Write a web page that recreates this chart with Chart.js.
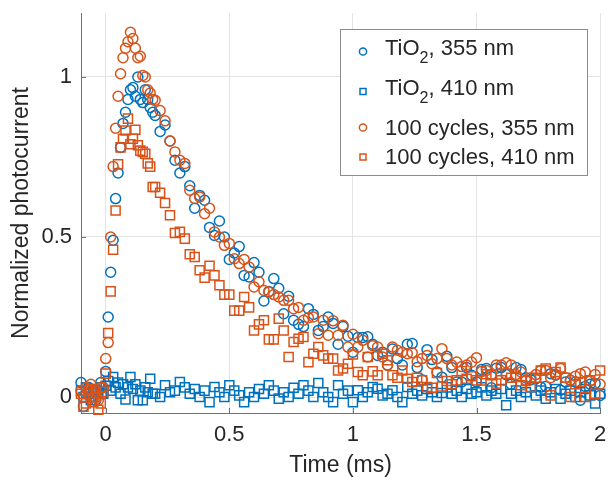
<!DOCTYPE html>
<html>
<head>
<meta charset="utf-8">
<script src="https://cdn.jsdelivr.net/npm/chart.js@4.4.0/dist/chart.umd.min.js"></script>
<style>
  html, body { margin: 0; padding: 0; background: #fff; }
</style>
</head>
<body>
<canvas id="photoChart" width="608" height="481"></canvas>
<script>
// time axis (ms) - denser sampling around the pulse, 0.02 ms afterwards
const time = [
  -0.10, -0.09, -0.08, -0.07, -0.06, -0.05, -0.04, -0.03, -0.02, -0.01,
  0.00, 0.01, 0.02, 0.03, 0.04, 0.05, 0.06, 0.07, 0.08, 0.09,
  0.10, 0.11, 0.12, 0.13, 0.14, 0.15, 0.16, 0.17, 0.18, 0.19,
  0.20, 0.22, 0.24, 0.26, 0.28, 0.30, 0.32, 0.34, 0.36, 0.38,
  0.40, 0.42, 0.44, 0.46, 0.48, 0.50, 0.52, 0.54, 0.56, 0.58,
  0.60, 0.62, 0.64, 0.66, 0.68, 0.70, 0.72, 0.74, 0.76, 0.78,
  0.80, 0.82, 0.84, 0.86, 0.88, 0.90, 0.92, 0.94, 0.96, 0.98,
  1.00, 1.02, 1.04, 1.06, 1.08, 1.10, 1.12, 1.14, 1.16, 1.18,
  1.20, 1.22, 1.24, 1.26, 1.28, 1.30, 1.32, 1.34, 1.36, 1.38,
  1.40, 1.42, 1.44, 1.46, 1.48, 1.50, 1.52, 1.54, 1.56, 1.58,
  1.60, 1.62, 1.64, 1.66, 1.68, 1.70, 1.72, 1.74, 1.76, 1.78,
  1.80, 1.82, 1.84, 1.86, 1.88, 1.90, 1.92, 1.94, 1.96, 1.98,
  2.00
];

// TiO2, 355 nm
const tio2_355 = [
  0.045, -0.03, 0.01, 0.03, 0.0, 0.02, -0.01, 0.02, 0.045, 0.01,
  0.08, 0.25, 0.39, 0.49, 0.62, 0.70, 0.78, 0.855, 0.89, 0.93,
  0.96, 0.967, 0.94, 1.00, 0.93, 0.92, 0.96, 0.93, 0.905, 0.89,
  0.88, 0.83, 0.85, 0.80, 0.74, 0.70, 0.72, 0.66, 0.59, 0.63,
  0.615, 0.53, 0.505, 0.55, 0.50, 0.43, 0.45, 0.47, 0.38, 0.375,
  0.42, 0.39, 0.30, 0.33, 0.37, 0.34, 0.26, 0.315, 0.24, 0.227,
  0.22, 0.276, 0.258, 0.208, 0.22, 0.25, 0.23, 0.165, 0.22, 0.19,
  0.14, 0.186, 0.186, 0.188, 0.165, 0.13, 0.14, 0.10, 0.15, 0.12,
  0.10, 0.165, 0.167, 0.092, 0.054, 0.148, 0.117, 0.078, 0.062, 0.127,
  0.092, 0.047, 0.047, 0.092, 0.068, 0.047, 0.086, 0.089, 0.029, 0.09,
  0.092, 0.07, 0.04, 0.092, 0.086, 0.06, 0.054, 0.057, 0.031, 0.033,
  0.073, 0.068, 0.021, 0.047, 0.052, 0.047, -0.01, 0.033, 0.04, 0.042,
  0.005
];

// TiO2, 410 nm
const tio2_410 = [
  0.02, 0.0, 0.03, 0.01, -0.01, 0.025, 0.0, 0.015, 0.03, 0.01,
  0.035, 0.05, 0.02, 0.0625, 0.03, 0.045, 0.01, 0.04, -0.008, 0.03,
  0.0625, 0.025, 0.04, -0.01, 0.02, -0.01, 0.03, 0.015, 0.057, 0.01,
  0.01, 0.0, 0.037, 0.015, 0.02, 0.047, 0.03, 0.01, 0.025, 0.0,
  0.02, -0.016, 0.031, 0.015, 0.0, 0.037, 0.02, 0.005, -0.016, 0.015,
  0.0, 0.025, 0.01, 0.037, 0.02, -0.005, 0.015, 0.0, 0.029, 0.01,
  0.037, 0.02, 0.0, 0.044, 0.015, 0.0, -0.016, 0.037, 0.01, 0.02,
  -0.016, 0.021, 0.0, 0.015, 0.031, 0.026, 0.005, 0.01, 0.021, 0.0,
  -0.016, 0.031, 0.01, 0.02, 0.005, 0.025, 0.015, 0.0, 0.0125, 0.03,
  0.01, 0.02, 0.0, 0.025, 0.01, 0.015, 0.03, 0.005, 0.02, 0.01,
  0.025, -0.026, 0.01, 0.02, 0.0, 0.015, 0.03, 0.005, 0.02, -0.005,
  0.015, 0.025, -0.005, 0.01, 0.02, 0.0, 0.015, 0.025, 0.005, -0.02,
  0.01
];

// 100 cycles, 355 nm
const cyc100_355 = [
  0.02, 0.0, 0.03, 0.01, 0.04, 0.0, 0.02, -0.01, 0.03, 0.03,
  0.12, 0.17, 0.50, 0.72, 0.84, 0.94, 1.01, 1.06, 1.09, 1.11,
  1.14, 1.12, 1.09, 1.06, 1.065, 1.005, 1.00, 0.96, 0.95, 0.93,
  0.927, 0.895, 0.863, 0.80, 0.766, 0.74, 0.73, 0.646, 0.62, 0.625,
  0.573, 0.59, 0.516, 0.50, 0.474, 0.48, 0.432, 0.417, 0.43, 0.406,
  0.344, 0.36, 0.333, 0.328, 0.32, 0.3125, 0.302, 0.302, 0.276, 0.28,
  0.24, 0.248, 0.25, 0.198, 0.24, 0.193, 0.238, 0.193, 0.224, 0.156,
  0.196, 0.156, 0.177, 0.125, 0.16, 0.156, 0.125, 0.099, 0.156, 0.146,
  0.14, 0.135, 0.138, 0.11, 0.12, 0.13, 0.104, 0.12, 0.151, 0.12,
  0.10, 0.109, 0.095, 0.10, 0.109, 0.123, 0.08, 0.083, 0.07, 0.10,
  0.10, 0.107, 0.10, 0.07, 0.078, 0.052, 0.06, 0.07, 0.083, 0.083,
  0.06, 0.07, 0.089, 0.06, 0.052, 0.065, 0.073, 0.078, 0.05, 0.07,
  0.04
];

// 100 cycles, 410 nm
const cyc100_410 = [
  0.01, -0.03, -0.02, 0.02, 0.025, -0.016, 0.0, -0.04, -0.02, 0.016,
  0.073, 0.20, 0.33, 0.46, 0.583, 0.727, 0.78, 0.807, 0.833, 0.87,
  0.79, 0.807, 0.835, 0.787, 0.77, 0.766, 0.76, 0.73, 0.72, 0.656,
  0.656, 0.638, 0.606, 0.568, 0.5125, 0.516, 0.495, 0.446, 0.4375, 0.396,
  0.373, 0.41, 0.38, 0.349, 0.32, 0.32, 0.27, 0.27, 0.3125, 0.28,
  0.208, 0.227, 0.24, 0.18, 0.18, 0.245, 0.208, 0.125, 0.172, 0.182,
  0.1875, 0.109, 0.135, 0.156, 0.13, 0.12, 0.12, 0.083, 0.089, 0.104,
  0.133, 0.078, 0.068, 0.125, 0.08, 0.068, 0.135, 0.115, 0.068, 0.06,
  0.083, 0.057, 0.047, 0.06, 0.052, 0.031, 0.029, 0.075, 0.033, 0.05,
  0.04, 0.052, 0.081, 0.057, 0.065, 0.052, 0.052, 0.071, 0.068, 0.042,
  0.052, 0.073, 0.06, 0.0625, 0.037, 0.05, 0.031, 0.06, 0.083, 0.089,
  0.005, 0.078, 0.092, 0.06, 0.0, 0.04, 0.047, 0.0, 0.052, 0.01,
  0.083
];

const xTicks = [0, 0.5, 1, 1.5, 2];
const yTicks = [0, 0.5, 1];

const BLUE = '#0072BD';
const ORANGE = '#D95319';
const TEXT = '#262626';
const AXIS = '#707070';
const FONT = "'Liberation Sans', Arial, Helvetica, sans-serif";

function pts(ys) {
  return time.map((t, i) => ({ x: t, y: ys[i] }));
}

// legend rows: main text, subscript, rest
const legendRows = [
  { pre: 'TiO', sub: '2', post: ', 355 nm', color: BLUE, style: 'circle' },
  { pre: 'TiO', sub: '2', post: ', 410 nm', color: BLUE, style: 'rect' },
  { pre: '100 cycles, 355 nm', sub: '', post: '', color: ORANGE, style: 'circle' },
  { pre: '100 cycles, 410 nm', sub: '', post: '', color: ORANGE, style: 'rect' }
];

const boxLegend = {
  id: 'boxLegend',
  afterDraw(chart) {
    const ctx = chart.ctx;
    const bx = 340, by = 29, bw = 247, bh = 146;
    ctx.save();
    ctx.fillStyle = '#fff';
    ctx.fillRect(bx, by, bw, bh);
    ctx.strokeStyle = '#8c8c8c';
    ctx.lineWidth = 1;
    ctx.strokeRect(bx + 0.5, by + 0.5, bw, bh);

    const markY = [51.5, 91.5, 127.5, 157];
    const textY = [49, 89, 128.5, 157.5];
    legendRows.forEach((r, i) => {
      ctx.strokeStyle = r.color;
      ctx.lineWidth = 1.5;
      ctx.beginPath();
      if (r.style === 'circle') {
        ctx.arc(363, markY[i], 3.6, 0, Math.PI * 2);
      } else {
        ctx.rect(360, markY[i] - 3, 6, 6);
      }
      ctx.stroke();

      ctx.fillStyle = TEXT;
      ctx.textBaseline = 'middle';
      ctx.textAlign = 'left';
      ctx.font = '22px ' + FONT;
      let x = 385;
      ctx.fillText(r.pre, x, textY[i]);
      x += ctx.measureText(r.pre).width;
      if (r.sub) {
        ctx.font = '16px ' + FONT;
        ctx.fillText(r.sub, x, textY[i] + 10);
        x += ctx.measureText(r.sub).width;
        ctx.font = '22px ' + FONT;
        ctx.fillText(r.post, x, textY[i]);
      }
    });
    ctx.restore();
  }
};

// small inward tick marks on the left and bottom axes
const inwardTicks = {
  id: 'inwardTicks',
  beforeDatasetsDraw(chart) {
    const { ctx, chartArea: a, scales: { x, y } } = chart;
    ctx.save();
    ctx.strokeStyle = AXIS;
    ctx.lineWidth = 1;
    ctx.beginPath();
    xTicks.forEach(v => {
      const px = Math.round(x.getPixelForValue(v)) + 0.5;
      ctx.moveTo(px, a.bottom);
      ctx.lineTo(px, a.bottom - 5);
    });
    yTicks.forEach(v => {
      const py = Math.round(y.getPixelForValue(v)) + 0.5;
      ctx.moveTo(a.left, py);
      ctx.lineTo(a.left + 5, py);
    });
    ctx.stroke();
    ctx.restore();
  }
};

function markerSet(label, ys, color, style, order) {
  return {
    label: label,
    data: pts(ys),
    pointStyle: style,
    pointRadius: style === 'rect' ? 6.4 : 5,
    borderColor: color,
    backgroundColor: 'rgba(0,0,0,0)',
    pointBorderWidth: 1.5,
    clip: false,
    order: order
  };
}

// the plot box edges come from layout padding, not from label overhang
function noOverhang(scale) {
  scale.paddingTop = 0;
  scale.paddingBottom = 0;
  scale.paddingLeft = 0;
  scale.paddingRight = 0;
}

const ctx = document.getElementById('photoChart').getContext('2d');

const photoChart = new Chart(ctx, {
  type: 'scatter',
  data: {
    datasets: [
      markerSet('TiO2, 355 nm', tio2_355, BLUE, 'circle', 4),
      markerSet('TiO2, 410 nm', tio2_410, BLUE, 'rect', 3),
      markerSet('100 cycles, 355 nm', cyc100_355, ORANGE, 'circle', 2),
      markerSet('100 cycles, 410 nm', cyc100_410, ORANGE, 'rect', 1)
    ]
  },
  options: {
    responsive: false,
    animation: false,
    devicePixelRatio: 1,
    layout: { padding: { left: 0, right: 5, top: 13, bottom: 0 } },
    plugins: {
      legend: { display: false },
      tooltip: { enabled: false }
    },
    scales: {
      x: {
        type: 'linear',
        min: -0.1,
        max: 2,
        afterBuildTicks: (scale) => { scale.ticks = xTicks.map(v => ({ value: v })); },
        afterFit: (scale) => { scale.height = 68; noOverhang(scale); },
        grid: { color: '#e3e3e3', drawTicks: false },
        border: { color: AXIS, width: 1 },
        ticks: {
          padding: 9,
          color: TEXT,
          maxRotation: 0,
          font: { family: FONT, size: 22 },
          callback: (v) => String(v)
        },
        title: {
          display: true,
          text: 'Time (ms)',
          color: TEXT,
          font: { family: FONT, size: 23 },
          padding: { top: 0, bottom: 2 }
        }
      },
      y: {
        type: 'linear',
        min: -0.05,
        max: 1.2,
        afterBuildTicks: (scale) => { scale.ticks = yTicks.map(v => ({ value: v })); },
        afterFit: (scale) => { scale.width = 81; noOverhang(scale); },
        grid: { color: '#e3e3e3', drawTicks: false },
        border: { color: AXIS, width: 1 },
        ticks: {
          padding: 9,
          color: TEXT,
          font: { family: FONT, size: 22 },
          callback: (v) => String(v)
        },
        title: {
          display: true,
          text: 'Normalized photocurrent',
          color: TEXT,
          font: { family: FONT, size: 23 },
          padding: { top: 8, bottom: 0 }
        }
      }
    }
  },
  plugins: [inwardTicks, boxLegend]
});
</script>
</body>
</html>
